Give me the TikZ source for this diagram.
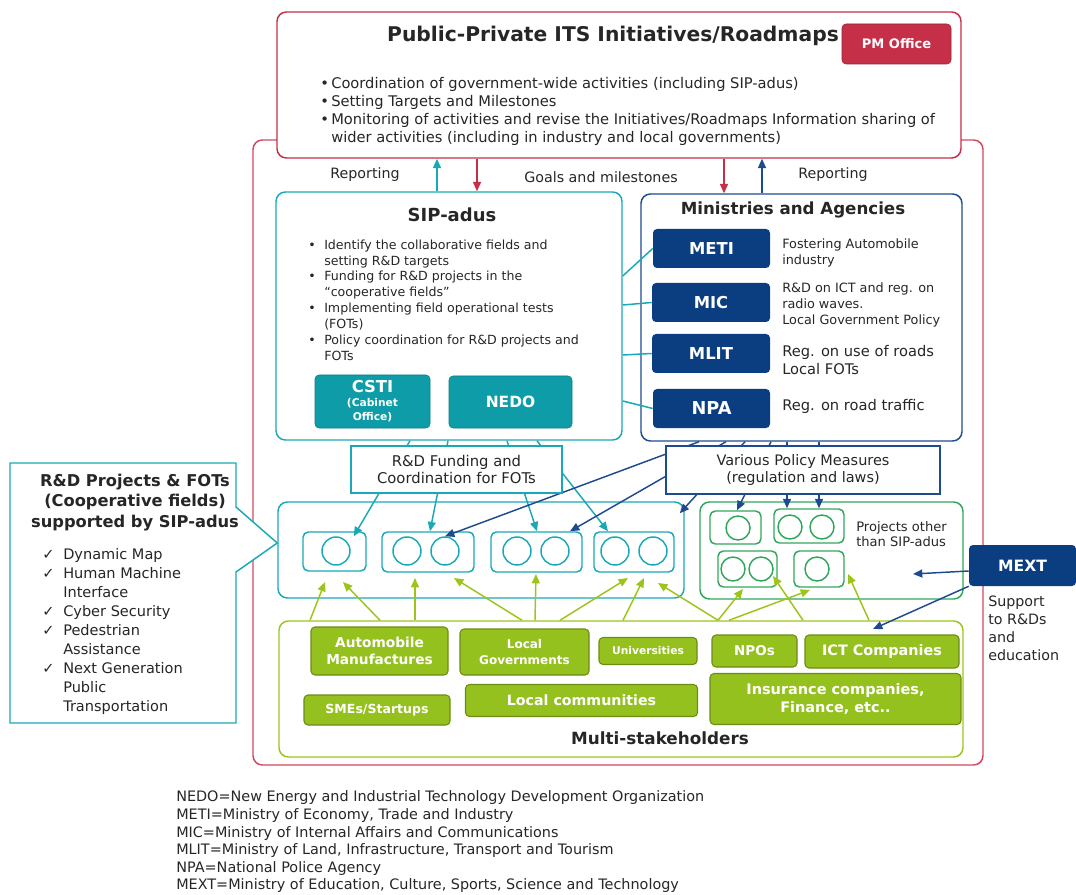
\documentclass[tikz,border=0pt]{standalone}
\usepackage{fontspec}
\setmainfont{DejaVu Sans}
\usetikzlibrary{arrows.meta,calc,fit}

\definecolor{rmred}{HTML}{C62F48}
\definecolor{rmpink}{HTML}{D6475F}
\definecolor{sipteal}{HTML}{1AA8B6}
\definecolor{sipfill}{HTML}{0E9DA8}
\definecolor{minblue}{HTML}{1E4B8F}
\definecolor{minfill}{HTML}{0A3E80}
\definecolor{othgreen}{HTML}{2EA75B}
\definecolor{stklime}{HTML}{9CC41B}
\definecolor{stkfill}{HTML}{95C11F}
\definecolor{stkedge}{HTML}{6C8C14}
\definecolor{txt}{HTML}{262626}

\newcommand\fs[2]{\fontsize{#1}{#2}\selectfont}
\newcommand\bl[1]{\makebox[#1][l]{\textbullet}}
\newcommand\ck{\makebox[15.75pt][l]{✓}}

\tikzset{
  frame/.style={draw=#1, rounded corners=7pt, line width=1.1pt, inner sep=0pt},
  pbox/.style={draw=#1, rounded corners=4pt, line width=1.1pt, inner sep=0pt},
  sz/.style 2 args={minimum width=#1*0.75pt, minimum height=#2*0.75pt},
  tag/.style={fill=#1, rounded corners=3pt, text=white, inner sep=0pt, align=center},
  gtag/.style={fill=stkfill, draw=stkedge, line width=0.8pt, rounded corners=3pt, text=white, inner sep=0pt, align=center},
  lbl/.style={inner sep=0pt, text=txt},
  ring/.style={circle, draw=#1, line width=1.1pt, inner sep=0pt, minimum size=28*0.75pt},
  oring/.style={ring=othgreen, minimum size=24*0.75pt},
  wire/.style={draw=#1, line width=1.1pt},
  arr/.style={wire=#1, -{Triangle[length=7pt,width=6pt]}},
  note/.style={draw=#1, fill=white, line width=1.1pt, inner sep=0pt, text=txt, align=center},
}

\begin{document}
\begin{tikzpicture}[x=0.75pt,y=-0.75pt]
\useasboundingbox (0,0) rectangle (1076,895);

% ---- frames ----
\node[frame=rmpink, fit={(253,140) (983,765)}] (outer) {};
\node[frame=rmred, fill=white, fit={(277,12) (961,158)}] (ppi) {};
\node[frame=sipteal, fit={(276,192) (622,440)}] (sip) {};
\node[frame=minblue, fit={(641,194) (962,441)}] (mins) {};
\node[frame=sipteal, fit={(278,502) (684,598)}] (sipp) {};
\node[frame=othgreen, fit={(700,502) (963,599)}] (oth) {};
\node[frame=stklime, fit={(279,621) (963,757)}] (stk) {};

% ---- roadmap box ----
\node[lbl, font=\bfseries\fs{15.2}{18}] (ppititle) at (613,36) {Public-Private ITS Initiatives/Roadmaps};
\node[tag=rmred, draw=rmred!75!black, sz={109}{40}, font=\bfseries\fs{9.8}{12}] (pmo) at (896.5,44) {PM Office};
\node[lbl, anchor=west, align=left, font=\fs{11}{13.5}] (ppitext) at (320,111)
  {\bl{8.25pt}Coordination of government-wide activities (including SIP-adus)\\
   \bl{8.25pt}Setting Targets and Milestones\\
   \bl{8.25pt}Monitoring of activities and revise the Initiatives/Roadmaps Information sharing of\\
   \hspace*{8.25pt}wider activities (including in industry and local governments)};

\node[lbl, font=\fs{10.7}{13}] (rep1) at (365,175) {Reporting};
\node[lbl, font=\fs{10.7}{13}] (goals) at (601,177) {Goals and milestones};
\node[lbl, font=\fs{10.7}{13}] (rep2) at (833,175) {Reporting};

% ---- SIP-adus ----
\node[lbl, font=\bfseries\fs{13.5}{16}] (siptitle) at (452,215) {SIP-adus};
\node[lbl, anchor=west, align=left, font=\fs{9.45}{11.9}] (siptext) at (308,300)
  {\bl{12pt}Identify the collaborative fields and\\
   \hspace*{12pt}setting R\&D targets\\
   \bl{12pt}Funding for R\&D projects in the\\
   \hspace*{12pt}“cooperative fields”\\
   \bl{12pt}Implementing field operational tests\\
   \hspace*{12pt}(FOTs)\\
   \bl{12pt}Policy coordination for R\&D projects and\\
   \hspace*{12pt}FOTs};
\node[tag=sipfill, draw=sipfill!80!black, sz={115}{53}, font=\bfseries\fs{8}{10.5}] (csti) at (372.5,401.5)
  {{\fs{12.3}{10.5}CSTI}\\(Cabinet\\Office)};
\node[tag=sipfill, draw=sipfill!80!black, sz={123}{52}, font=\bfseries\fs{11.6}{14}] (nedo) at (510.5,402) {NEDO};

% ---- ministries ----
\node[lbl, font=\bfseries\fs{12.5}{15}] (mintitle) at (793,210) {Ministries and Agencies};
\node[tag=minfill, sz={117}{39}, font=\bfseries\fs{12.3}{14}] (meti) at (711.5,248.5) {METI};
\node[tag=minfill, sz={118}{39}, font=\bfseries\fs{12.3}{14}] (mic) at (711,302.5) {MIC};
\node[tag=minfill, sz={118}{39}, font=\bfseries\fs{12.3}{14}] (mlit) at (711,353.5) {MLIT};
\node[tag=minfill, sz={117}{39}, font=\bfseries\fs{13.3}{14}] (npa) at (711.5,408.5) {NPA};
\node[lbl, anchor=west, align=left, font=\fs{9.6}{12}] (metitext) at (782,253) {Fostering Automobile\\industry};
\node[lbl, anchor=west, align=left, font=\fs{9.6}{12}] (mictext) at (782,305) {R\&D on ICT and reg. on\\radio waves.\\Local Government Policy};
\node[lbl, anchor=west, align=left, font=\fs{11}{13.5}] (mlittext) at (782,360) {Reg. on use of roads\\Local FOTs};
\node[lbl, anchor=west, font=\fs{11}{13.5}] (npatext) at (782,406) {Reg. on road traffic};

% ---- project boxes ----
\node[pbox=sipteal, fit={(303,532) (366,571)}] (sp1) {};
\node[pbox=sipteal, fit={(382,532) (474,572)}] (sp2) {};
\node[pbox=sipteal, fit={(491,532) (582,572)}] (sp3) {};
\node[pbox=sipteal, fit={(594,532) (674,572)}] (sp4) {};
\node[ring=sipteal] (sp1a) at (336,551) {};
\node[ring=sipteal] (sp2a) at (407,551) {};
\node[ring=sipteal] (sp2b) at (445,551) {};
\node[ring=sipteal] (sp3a) at (517,551) {};
\node[ring=sipteal] (sp3b) at (555,551) {};
\node[ring=sipteal] (sp4a) at (615,551) {};
\node[ring=sipteal] (sp4b) at (653,551) {};

\node[pbox=othgreen, fit={(710,511) (761,544)}] (op1) {};
\node[pbox=othgreen, fit={(774,509) (844,543)}] (op2) {};
\node[pbox=othgreen, fit={(718,551) (777,587)}] (op3) {};
\node[pbox=othgreen, fit={(794,551) (844,587)}] (op4) {};
\node[oring] (op1a) at (738,528) {};
\node[oring] (op2a) at (790,527) {};
\node[oring] (op2b) at (822,527) {};
\node[oring] (op3a) at (733,569) {};
\node[oring] (op3b) at (761,569) {};
\node[oring] (op4a) at (817,569) {};
\node[lbl, anchor=west, align=left, font=\fs{9.8}{11}] (othtext) at (856,534) {Projects other\\than SIP-adus};

% ---- connectors ----
\draw[arr=sipteal] (sip.north -| 437,0) -- (ppi.south -| 437,0);
\draw[arr=rmred] (ppi.south -| 477,0) -- (sip.north -| 477,0);
\draw[arr=rmred] (ppi.south -| 724,0) -- (mins.north -| 724,0);
\draw[arr=minblue] (mins.north -| 762,0) -- (ppi.south -| 762,0);

\foreach \m/\yy in {meti/276, mic/305, mlit/355, npa/401}
  \draw[wire=sipteal] (sip.east |- 0,\yy) -- (\m.west);

\draw[arr=sipteal] (sip.south -| 410,0) -- ($(sp1.north east)+(-13,5)$);
\draw[arr=sipteal] (sip.south -| 448,0) -- (sp2.north -| 430,0);
\draw[arr=sipteal] (sip.south -| 507,0) -- (sp3.north -| 537,0);
\draw[arr=sipteal] (sip.south -| 537,0) -- (sp4.north -| 608,0);

\draw[arr=minblue] (mins.south -| 699,0) -- (sp2b.north);
\draw[arr=minblue] (mins.south -| 726,0) -- (sp3.north -| 570,0);
\draw[arr=minblue] (mins.south -| 745,0) -- ($(sipp.north east)+(-5,12)$);
\draw[arr=minblue] (mins.south -| 771,0) -- (op1.north -| 737,0);
\draw[arr=minblue] (mins.south -| 787,0) -- (op2.north -| 787,0);
\draw[arr=minblue] (mins.south -| 819,0) -- (op2.north -| 819,0);

% stakeholders up to the projects
\foreach \sx/\tip [count=\i] in {310/{325,582}, 380/{343,582}, 415/{415,578}, 522/{454,578},
    535/{536,574}, 560/{628,578}, 623/{644,578}, 718/{658,583}, 718/{743,589},
    729/{810,590}, 803/{773,576}, 869/{848,574}} {
  \coordinate (lt\i) at (\tip);
  \draw[arr=stklime] (stk.north -| \sx,0) -- (lt\i);
}

\node[note=sipteal, sz={211}{47}, font=\fs{11.1}{13}] (fund) at (456.5,469.5) {R\&D Funding and\\Coordination for FOTs};
\node[note=minblue, sz={274}{48}, font=\fs{10.85}{13}] (policy) at (803,470) {Various Policy Measures\\(regulation and laws)};

% ---- callout ----
\draw[wire=sipteal, fill=white] (10,463) -- (236,463) -- (236,507) -- (sipp.west |- 0,543)
  -- (236,572) -- (236,723) -- (10,723) -- cycle;
\node[lbl, align=center, font=\bfseries\fs{12.2}{15.4}] (coptitle) at (135,502.5)
  {R\&D Projects \& FOTs\\(Cooperative fields)\\supported by SIP-adus};
\node[lbl, anchor=west, align=left, font=\fs{10.9}{14.2}] (coplist) at (42,631.5)
  {\ck Dynamic Map\\
   \ck Human Machine\\
   \hspace*{15.75pt}Interface\\
   \ck Cyber Security\\
   \ck Pedestrian\\
   \hspace*{15.75pt}Assistance\\
   \ck Next Generation\\
   \hspace*{15.75pt}Public\\
   \hspace*{15.75pt}Transportation};

% ---- multi-stakeholders ----
\node[gtag, sz={137}{48}, font=\bfseries\fs{10.3}{12.75}] (auto) at (379.5,651) {Automobile\\Manufactures};
\node[gtag, sz={129}{46}, font=\bfseries\fs{9}{12}] (locg) at (524.5,652) {Local\\Governments};
\node[gtag, sz={98}{27}, font=\bfseries\fs{8}{10}] (univ) at (648,651) {Universities};
\node[gtag, sz={85}{32}, font=\bfseries\fs{10.1}{12}] (npo) at (754.5,651) {NPOs};
\node[gtag, sz={154}{33}, font=\bfseries\fs{10.8}{12}] (ict) at (882,651.5) {ICT Companies};
\node[gtag, sz={146}{30}, font=\bfseries\fs{9.4}{12}] (sme) at (377,710) {SMEs/Startups};
\node[gtag, sz={232}{32}, font=\bfseries\fs{10.65}{12}] (lcom) at (581.5,700.5) {Local communities};
\node[gtag, sz={251}{51}, font=\bfseries\fs{10.85}{13.5}] (ins) at (835.5,699) {Insurance companies,\\Finance, etc..};
\node[lbl, font=\bfseries\fs{12.6}{15}] (stktitle) at (660,738) {Multi-stakeholders};

% ---- MEXT ----
\node[tag=minfill, sz={107}{41}, font=\bfseries\fs{11.7}{14}] (mext) at (1022.5,565.5) {MEXT};
\node[lbl, anchor=west, align=left, font=\fs{10.7}{13.5}] (mexttext) at (988,628) {Support\\to R\&Ds\\and\\education};
\coordinate (mextin) at (913,574);
\coordinate (mextst) at (873,629);
\draw[arr=minblue] (mext.west |- 0,571) -- (mextin);
\draw[arr=minblue] (mext.south west) -- (mextst);

% ---- abbreviations ----
\node[lbl, anchor=west, align=left, font=\fs{10.8}{13.2}] (abbr) at (176,842)
  {NEDO=New Energy and Industrial Technology Development Organization\\
   METI=Ministry of Economy, Trade and Industry\\
   MIC=Ministry of Internal Affairs and Communications\\
   MLIT=Ministry of Land, Infrastructure, Transport and Tourism\\
   NPA=National Police Agency\\
   MEXT=Ministry of Education, Culture, Sports, Science and Technology};
\end{tikzpicture}
\end{document}
